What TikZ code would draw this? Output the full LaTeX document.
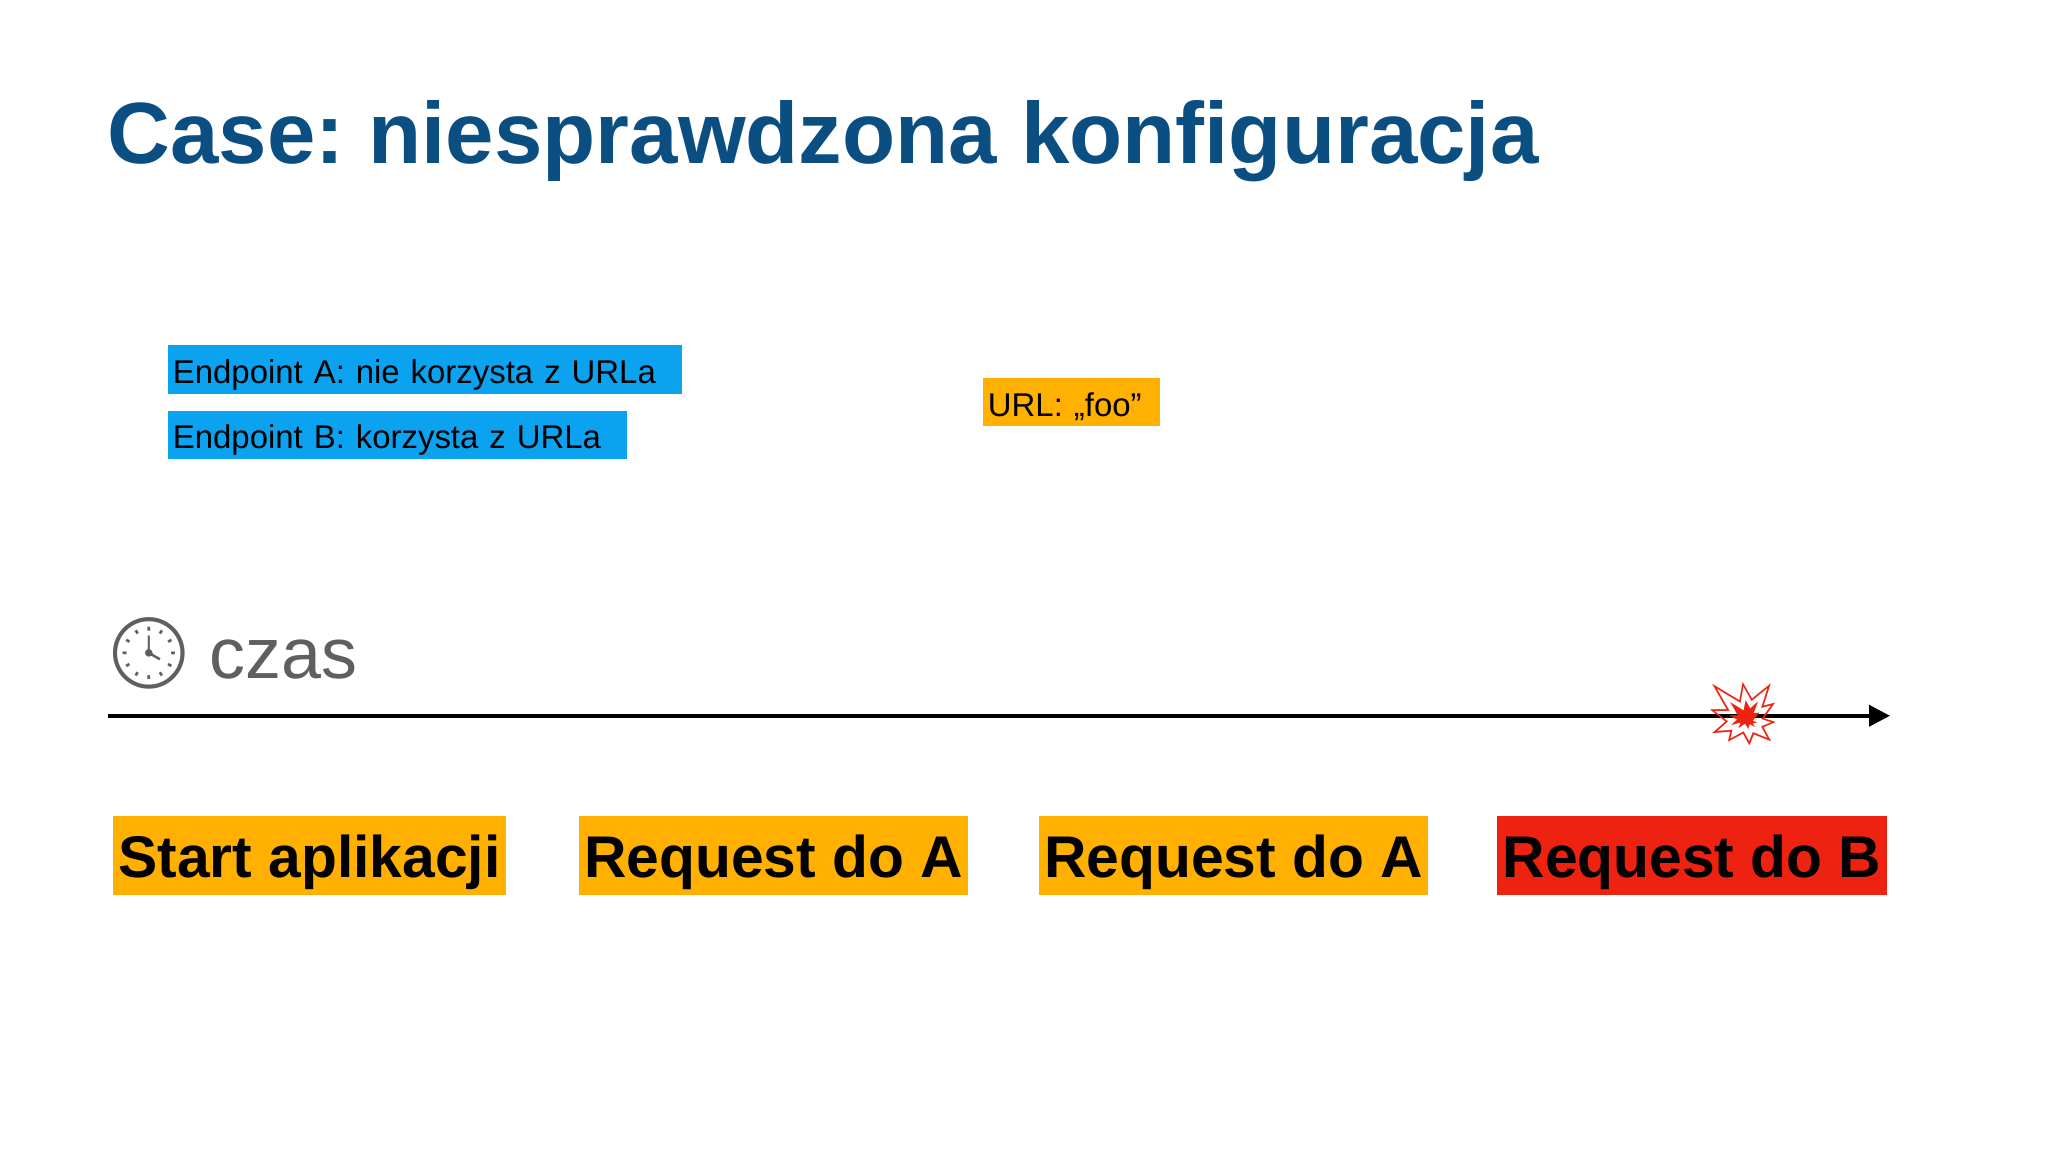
\documentclass[tikz,border=0pt]{standalone}
\usepackage{fontspec}
\setmainfont{Liberation Sans}
\newfontfamily\emo{Noto Emoji}
\usetikzlibrary{arrows.meta}
\frenchspacing
\definecolor{titleblue}{HTML}{0B4E82}
\definecolor{skyb}{HTML}{0BA3F0}
\definecolor{orng}{HTML}{FFB000}
\definecolor{redb}{HTML}{EE2211}
\definecolor{grayt}{HTML}{5F5F5F}
\tikzset{
  tag/.style={fill=#1, anchor=west, inner xsep=2pt, inner ysep=0pt, align=left, text height=14.5pt, text depth=4pt, font=\fontsize{12.6}{14}\selectfont},
  big/.style={fill=#1, anchor=west, inner xsep=2pt, inner ysep=0pt, text height=23.5pt, text depth=6.5pt, font=\bfseries\fontsize{22.5}{26}\selectfont},
}
\begin{document}
\begin{tikzpicture}[x=0.5pt,y=-0.5pt]
\useasboundingbox[fill=white] (0,0) rectangle (1568,882);
\node[anchor=west, text=titleblue, font=\bfseries\fontsize{33.3}{38}\selectfont, inner sep=0pt] (title) at (82,108) {Case: niesprawdzona konfiguracja};
\node[tag=skyb, text width=193pt] (ea) at (128,283) {Endpoint A: nie korzysta z URLa};
\node[tag=skyb, text width=172pt] (eb) at (128,333) {Endpoint B: korzysta z URLa};
\node[tag=orng, text width=64pt] (url) at (752,308) {URL: „foo”};
\node[font=\emo\fontsize{27}{30}\selectfont, text=grayt] (clock) at (114,500) {🕓};
\node[anchor=west, text=grayt, font=\fontsize{27.5}{30}\selectfont, inner sep=0pt] (czas) at (160,505) {czas};
\coordinate (s) at (83,548);
\coordinate (e) at (1447,548);
\draw[line width=1.5pt, -{Triangle[length=8pt,width=8pt]}] (s) -- (e);
\node[font=\emo\fontsize{24}{26}\selectfont, text=redb] (boom) at (1335,547) {💥};
\node[big=orng, minimum width=150.5pt] (b1) at (86,655) {Start aplikacji};
\node[big=orng, minimum width=148pt] (b2) at (443,655) {Request do A};
\node[big=orng, minimum width=147.5pt] (b3) at (795,655) {Request do A};
\node[big=redb, minimum width=148pt] (b4) at (1146,655) {Request do B};
\end{tikzpicture}
\end{document}
